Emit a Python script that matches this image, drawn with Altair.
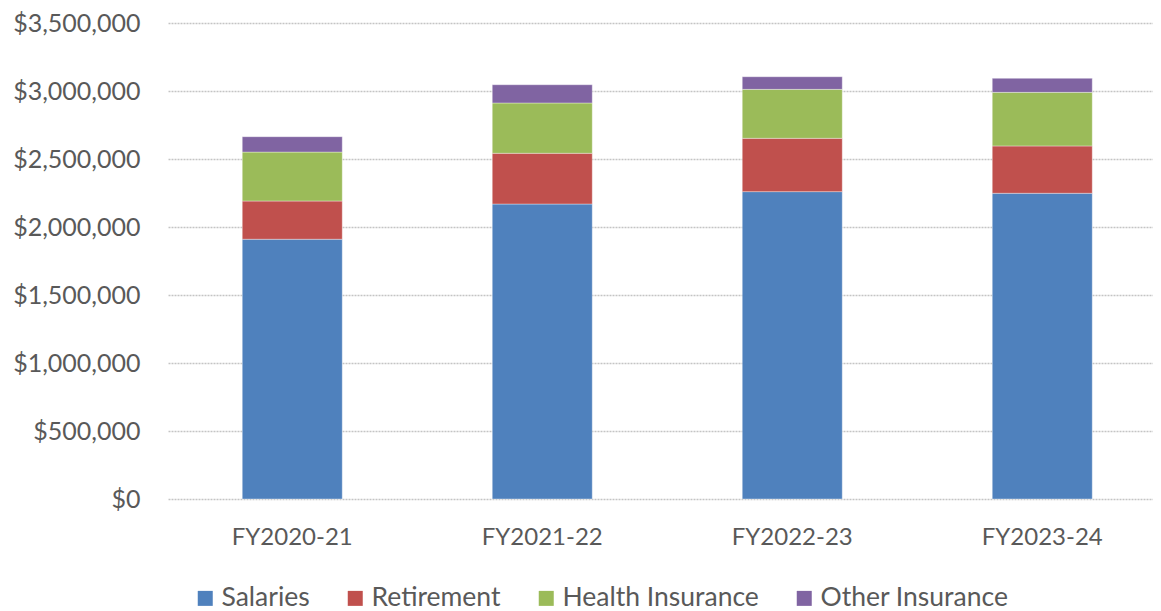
import altair as alt
import pandas as pd

years = ["FY2020-21", "FY2021-22", "FY2022-23", "FY2023-24"]
categories = ["Salaries", "Retirement", "Health Insurance", "Other Insurance"]
salaries = [1910000, 2169000, 2260000, 2248000]
retirement = [281000, 373000, 392000, 348000]
health = [360000, 370000, 360000, 394000]
other = [113000, 134000, 93000, 103000]
colors = ["#4F81BD", "#C0504D", "#9BBB59", "#8064A2"]

series = [salaries, retirement, health, other]
rows = []
for ci, (cat, vals) in enumerate(zip(categories, series)):
    for y, v in zip(years, vals):
        rows.append({"Year": y, "Category": cat, "Amount": v, "order": ci})
df = pd.DataFrame(rows)

FONT = "Lato"
TXT = "#595959"

chart = alt.Chart(df).mark_bar(stroke="#ffffff", strokeWidth=0.6, strokeOpacity=0.6).encode(
    x=alt.X("Year:N", sort=years, title=None,
            scale=alt.Scale(paddingInner=0.6, paddingOuter=0.27, align=0.55),
            axis=alt.Axis(labelAngle=0, ticks=False, domain=False, grid=False,
                          labelFontSize=24, labelColor=TXT, labelFont=FONT, labelPadding=26)),
    y=alt.Y("Amount:Q", stack="zero", title=None,
            scale=alt.Scale(domain=[0, 3500000], nice=False),
            axis=alt.Axis(values=[0, 500000, 1000000, 1500000, 2000000, 2500000, 3000000, 3500000],
                          format="$,.0f", ticks=False, domain=False,
                          labelFontSize=25, labelColor=TXT, labelFont=FONT, labelPadding=28,
                          gridColor="#c4c4c4", gridDash=[2, 1], gridWidth=1.5)),
    color=alt.Color("Category:N", sort=categories,
                    scale=alt.Scale(domain=categories, range=colors),
                    legend=alt.Legend(title=None, orient="none", direction="horizontal",
                                      legendX=24, legendY=562, columns=4,
                                      symbolType="square", symbolSize=225, symbolStrokeWidth=0,
                                      labelFontSize=26.5, labelColor=TXT, labelFont=FONT,
                                      labelLimit=400, columnPadding=32, labelOffset=3)),
    order=alt.Order("order:Q", sort="ascending"),
).properties(
    width=985, height=476,
    autosize=alt.AutoSizeParams(type="none"),
    padding={"left": 160, "top": 15, "right": 0, "bottom": 112},
).configure_view(stroke=None)

chart.save("out.html", embed_options={"renderer": "svg", "actions": False})
